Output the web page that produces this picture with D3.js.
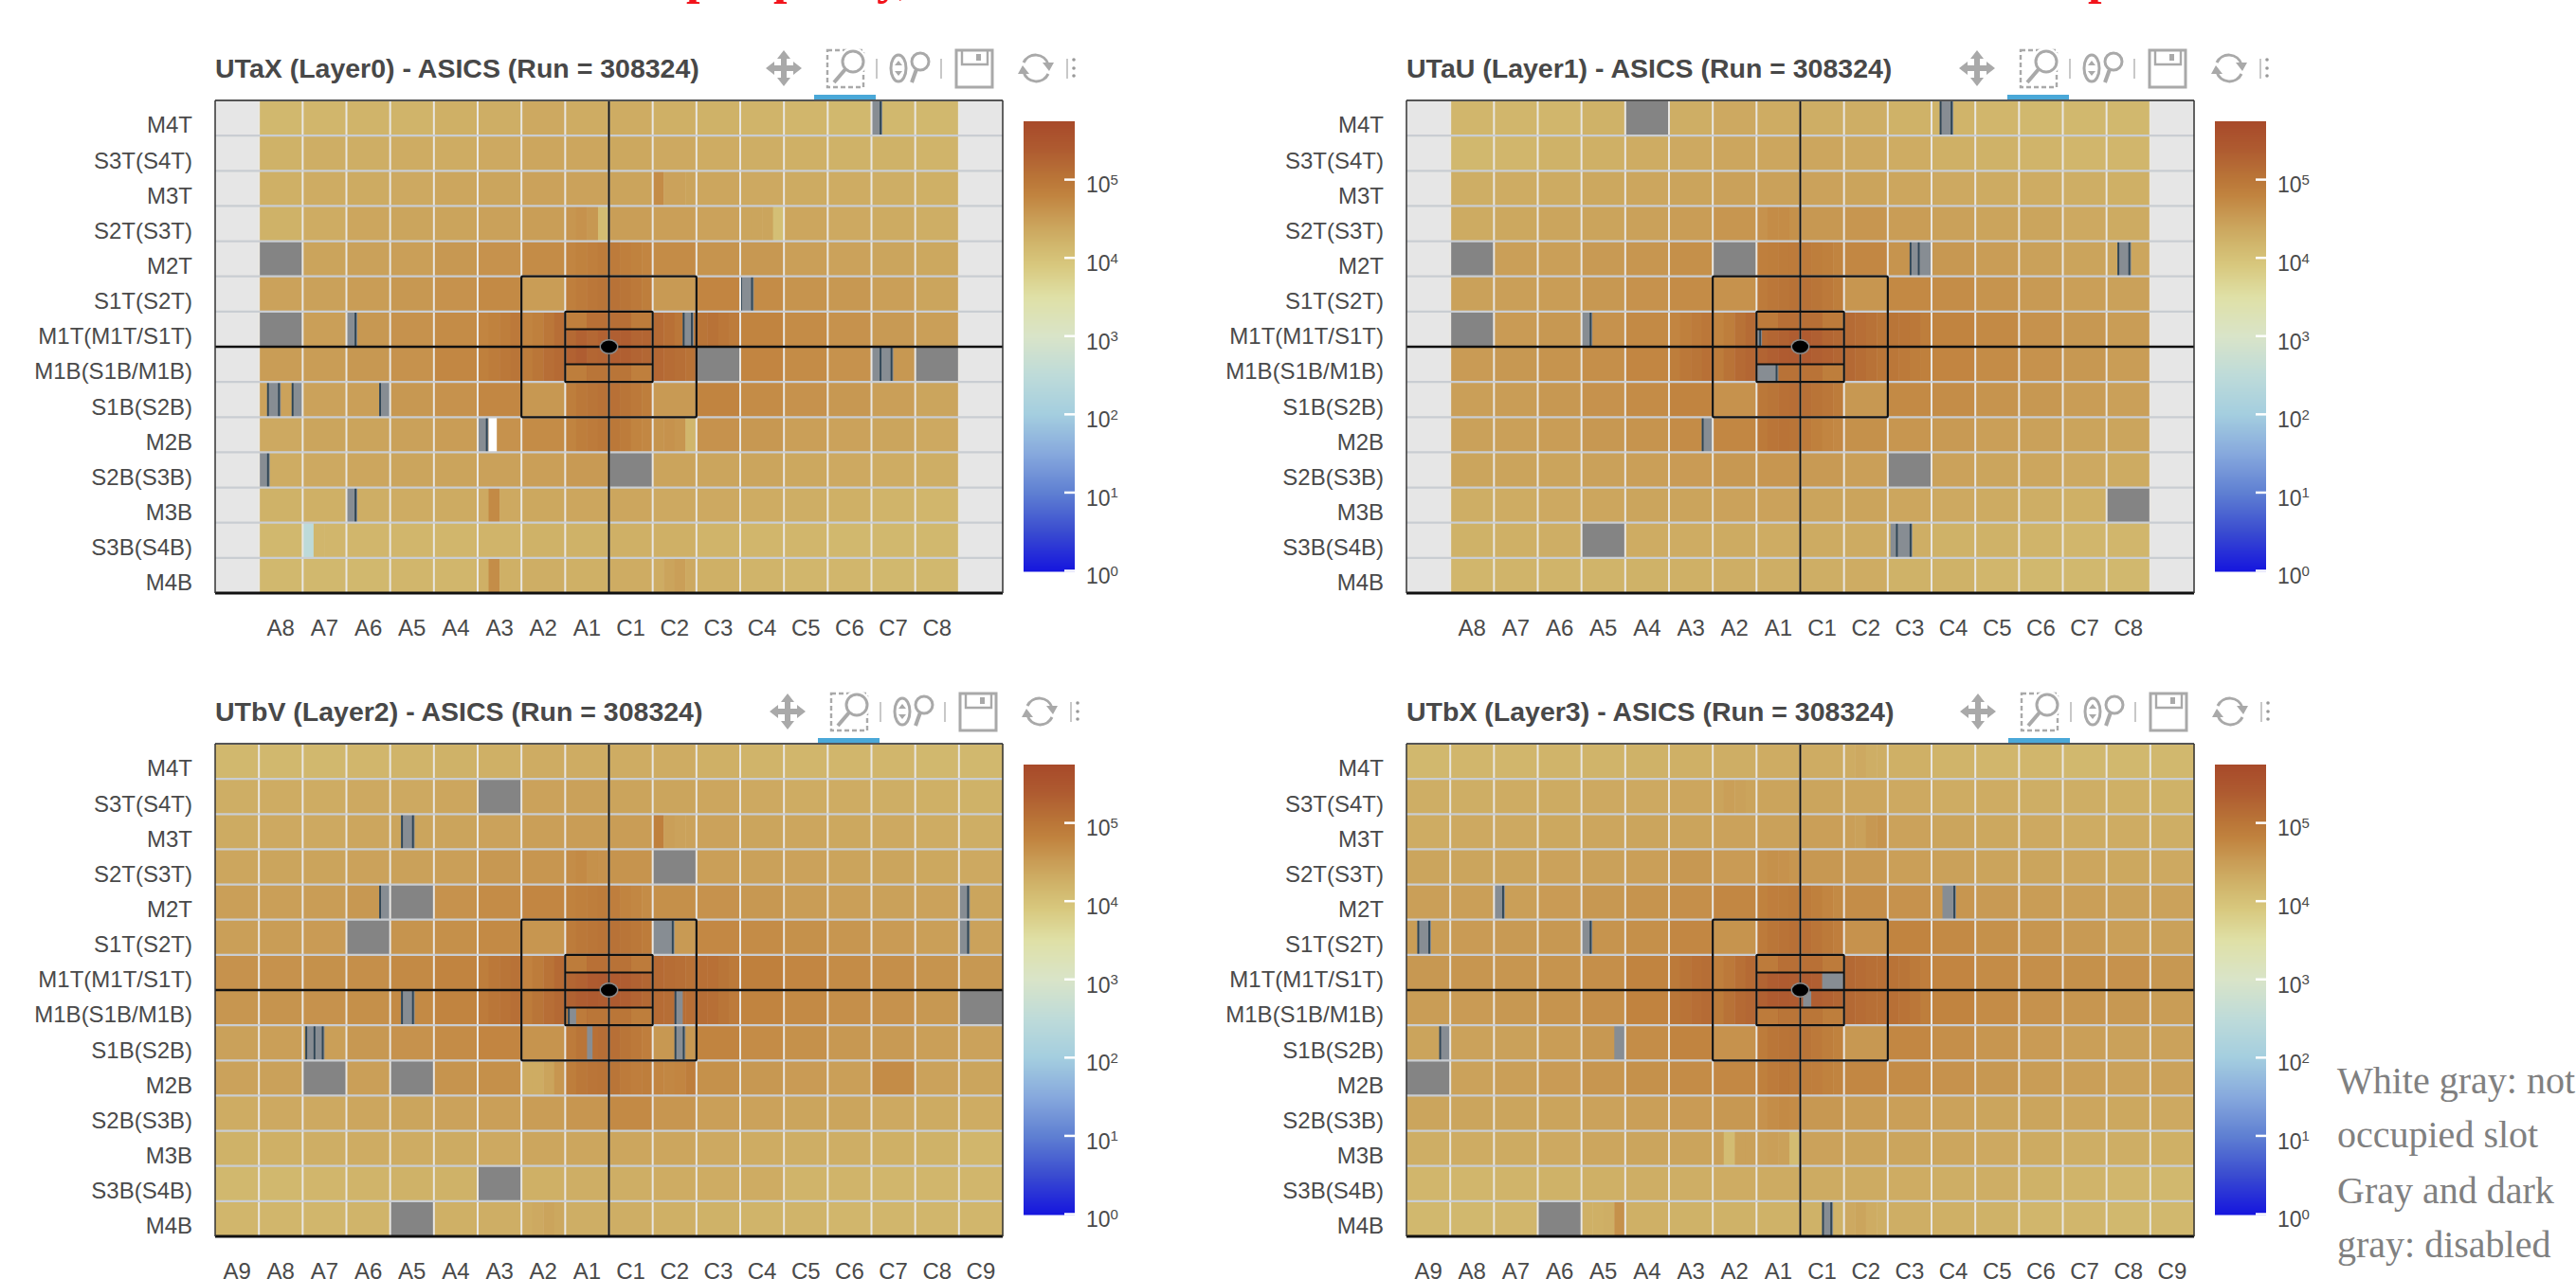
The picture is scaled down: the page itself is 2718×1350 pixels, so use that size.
<!DOCTYPE html>
<html>
<head>
<meta charset="utf-8">
<script src="https://cdn.jsdelivr.net/npm/d3@7"></script>
<style>
  html, body { margin: 0; background: #fff; }
  svg { display: block; }
  text { font-family: "Liberation Sans", Arial, sans-serif; fill: #4a4a4a; }
</style>
</head>
<body>
<div id="chart"></div>
<script>
// ---------- DATA ----------
const rowLabels = ["M4T", "S3T(S4T)", "M3T", "S2T(S3T)", "M2T", "S1T(S2T)", "M1T(M1T/S1T)",
  "M1B(S1B/M1B)", "S1B(S2B)", "M2B", "S2B(S3B)", "M3B", "S3B(S4B)", "M4B"];
const colLabels8 = ["", "A8", "A7", "A6", "A5", "A4", "A3", "A2", "A1", "C1", "C2", "C3", "C4", "C5", "C6", "C7", "C8", " "];
const colLabels9 = ["A9", "A8", "A7", "A6", "A5", "A4", "A3", "A2", "A1", "C1", "C2", "C3", "C4", "C5", "C6", "C7", "C8", "C9"];
const colourTicks = [1, 10, 100, 1000, 10000, 100000];

// hit counts in thousands per slot: number = whole cell, array = the four ASICs,
// null = not occupied, "off" = disabled
const utaxCounts = [
  [null, 14, 15, 16, 16, 18, 19, 22, 20, 20, 18, 17, 16, 15, 14, 14, 14, null],
  [null, 17, 19, 19, 20, 20, 22, 24, 24, 23, 22, 20, 19, 18, 17, 17, 16, null],
  [null, 18, 20, 21, 22, 24, 25, 27, 27, 26, [50, 27, 27, 26], 24, 22, 21, 20, 19, 18, null],
  [null, 17, 20, 24, 25, 26, 28, 31, [38, 42, 36, 12], 31, 30, 27, [25, 25, 25, 11], 24, 22, 21, 19, null],
  [null, "off", 26, 28, 30, 36, 42, 50, [60, 66, 72, 80], [84, 72, 66, 60], 50, 40, 36, 30, 27, 25, 23, null],
  [null, 27, 28, 32, 36, 42, 52, 32, [72, 84, 95, 105], [115, 105, 90, 76], 34, 60, 50, 40, 36, 30, 25, null],
  [null, "off", 30, 36, 42, 50, [60, 66, 76, 90], [62, 70, 95, 130], [150, 190, 160, 190], [210, 220, 175, 175], [145, 120, 95, 80], [105, 115, 95, 80], 62, 50, 42, 34, 30, null],
  [null, 32, 32, 36, 42, 56, [70, 80, 92, 105], [80, 100, 130, 150], [190, 230, 170, 180], [220, 215, 180, 165], [160, 140, 125, 110], "off", 60, 50, 42, 36, "off", null],
  [null, 27, 27, 30, 36, 42, 56, 36, [76, 92, 105, 115], [120, 105, 90, 76], 34, 62, 50, 42, 36, 30, 25, null],
  [null, 22, 25, 26, 28, 32, 42, 50, [62, 76, 84, 92], [92, 80, 62, 56], [40, 42, 38, 15], 42, 36, 30, 27, 25, 22, null],
  [null, 20, 22, 24, 25, 26, 28, 30, 34, "off", 26, 25, 25, 23, 22, 20, 19, null],
  [null, 17, 18, 19, 20, 21, [22, 52, 22, 22], 23, 24, 24, 22, 22, 20, 19, 18, 16, 15, null],
  [null, 14, [0.3, 15, 15, 15], 15, 15, 15, 16, 17, 17, 18, 18, 16, 15, 15, 14, 14, 14, null],
  [null, 14, 14, 14, 15, 15, [18, 48, 18, 18], 19, 18, 20, [20, 26, 30, 22], 18, 16, 15, 15, 14, 14, null]
];
const utauCounts = [
  [null, 15, 15, 15, 17, "off", 19, 22, 20, 19, 19, 17, 16, 15, 14, 14, 14, null],
  [null, 14, 15, 17, 18, 20, 22, 24, 24, 24, 22, 20, 18, 17, 16, 15, 15, null],
  [null, 19, 20, 21, 23, 24, 26, 28, 28, 27, 26, 24, 22, 21, 20, 19, 18, null],
  [null, 21, 23, 25, 26, 28, 32, 38, [42, 50, 50, 44], 36, 38, 32, 28, 26, 25, 22, 21, null],
  [null, "off", 30, 30, 34, 38, 45, "off", [72, 76, 80, 84], [84, 76, 70, 62], 56, 40, 36, 32, 28, 26, 24, null],
  [null, 28, 30, 32, 36, 42, 50, 42, [84, 95, 105, 115], [115, 105, 90, 76], 38, 54, 48, 40, 34, 30, 28, null],
  [null, "off", 33, 36, 42, 52, [60, 70, 84, 95], [62, 76, 115, 145], [150, 170, 195, 225], [240, 210, 170, 155], [145, 130, 115, 100], [105, 100, 92, 76], 62, 52, 42, 36, 32, null],
  [null, 33, 36, 40, 46, 58, [76, 92, 105, 120], [80, 110, 150, 170], [180, 210, 240, 250], [240, 210, 190, 170], [155, 135, 115, 100], [95, 88, 76, 70], 60, 50, 42, 36, 32, null],
  [null, 30, 32, 36, 42, 50, 62, 42, [92, 105, 120, 130], [122, 108, 95, 80], 36, 52, 48, 40, 36, 32, 29, null],
  [null, 28, 29, 32, 36, 40, 50, 56, [88, 102, 112, 105], [84, 70, 60, 55], 44, 38, 34, 30, 28, 26, 25, null],
  [null, 25, 26, 26, 28, 30, 33, 36, 38, 34, 30, "off", 27, 25, 24, 22, 21, null],
  [null, 19, 20, 22, 24, 25, 26, 27, 27, 26, 26, 24, 22, 21, 19, 18, "off", null],
  [null, 17, 18, 19, "off", 20, 20, 21, 20, 21, 21, 19, 17, 17, 16, 15, 15, null],
  [null, 15, 16, 16, 16, 17, 18, 19, 19, 19, 20, 17, 17, 15, 14, 14, 14, null]
];
const utbvCounts = [
  [14, 14, 14, 15, 16, 17, 18, 20, 20, 20, 20, 18, 16, 15, 15, 15, 14, 14],
  [19, 20, 20, 22, 22, 24, "off", 27, 28, 26, 25, 24, 22, 20, 20, 19, 18, 17],
  [21, 22, 22, 24, 25, 26, 27, 30, 32, 32, [70, 30, 27, 27], 27, 25, 24, 23, 22, 20, 19],
  [24, 25, 26, 27, 28, 30, 36, 38, [48, 52, 44, 42], 40, "off", 30, 28, 27, 26, 25, 23, 22],
  [30, 30, 32, 36, "off", 42, 50, 58, [66, 70, 76, 80], [74, 62, 56, 50], 45, 42, 36, 32, 30, 28, 27, 25],
  [30, 32, 33, "off", 40, 45, 52, 38, [80, 92, 100, 108], [115, 105, 92, 80], 34, 55, 50, 44, 38, 33, 30, 27],
  [42, 42, 44, 46, 52, 62, [76, 92, 105, 115], [65, 80, 110, 150], [170, 190, 240, 250], [240, 225, 195, 170], [150, 135, 125, 115], [120, 120, 105, 88], 70, 58, 50, 46, 40, 36],
  [38, 40, 42, 45, 52, 62, [84, 100, 112, 125], [80, 105, 130, 155], [195, 230, 245, 225], [245, 210, 180, 155], [140, 132, 132, 125], [132, 125, 105, 84], 62, 52, 46, 42, 36, "off"],
  [28, 30, 30, 36, 42, 50, 60, 40, [84, 105, 120, 132], [125, 105, 90, 74], 36, 62, 50, 44, 36, 34, 30, 27],
  [27, 28, "off", 30, "off", 40, 45, [20, 20, 26, 38], [76, 92, 102, 108], [105, 84, 74, 76], [60, 56, 60, 76], 44, 36, 33, 30, 50, 27, 25],
  [20, 22, 22, 24, 25, 27, 30, 32, 38, 52, 38, 30, 27, 25, 25, 22, 21, 20],
  [17, 18, 19, 20, 20, 21, 22, 24, 24, 24, 24, 22, 20, 19, 19, 18, 17, 15],
  [14, 14, 15, 16, 17, 17, "off", 18, 19, 19, 20, 20, 20, 16, 16, 15, 15, 15],
  [15, 15, 15, 16, "off", 18, 19, [20, 22, 26, 23], 19, 19, 18, 17, 16, 16, 15, 15, 15, 15]
];
const utbxCounts = [
  [14, 15, 15, 16, 16, 17, 18, 19, 20, 20, [20, 22, 19, 19], 18, 16, 15, 15, 14, 14, 14],
  [19, 19, 20, 21, 22, 22, 24, [26, 30, 28, 26], 26, 25, 24, 22, 20, 20, 19, 19, 18, 17],
  [20, 22, 22, 23, 24, 25, 26, 27, 28, 30, [30, 28, 36, 40], 27, 25, 23, 22, 20, 20, 19],
  [25, 25, 26, 27, 28, 30, 36, 33, [40, 44, 42, 38], 36, 34, 30, 28, 26, 25, 24, 23, 22],
  [30, 30, 30, 33, 36, 40, 46, 56, [66, 74, 76, 80], [80, 70, 60, 52], 48, 42, 38, 34, 32, 30, 28, 27],
  [32, 33, 34, 36, 40, 45, 56, 40, [84, 100, 112, 120], [120, 102, 88, 74], 42, 62, 52, 44, 38, 34, 30, 28],
  [36, 38, 38, 40, 46, 62, [88, 105, 120, 132], [72, 90, 120, 150], [180, 225, 240, 230], [230, 210, 180, 160], [155, 140, 125, 120], [112, 105, 88, 74], 60, 50, 46, 44, 42, 36],
  [32, 33, 36, 40, 46, 64, [100, 112, 130, 145], [85, 115, 150, 165], [200, 240, 250, 240], [240, 210, 190, 170], [155, 140, 125, 120], [120, 112, 95, 76], 62, 50, 42, 38, 36, 32],
  [26, 27, 28, 32, 36, 48, 62, 42, [80, 100, 108, 115], [105, 90, 76, 66], 36, 56, 46, 38, 33, 30, 28, 27],
  ["off", 27, 30, 33, 38, 44, 50, 55, [70, 84, 92, 88], [76, 74, 66, 62], 56, 50, 42, 36, 32, 30, 27, 27],
  [25, 25, 25, 26, 27, 30, 33, 36, [42, 48, 52, 50], 36, 32, 30, 27, 25, 25, 24, 23, 22],
  [19, 20, 21, 22, 24, 25, 26, [28, 12, 28, 28], [28, 30, 28, 12], 27, 26, 25, 24, 22, 21, 19, 19, 18],
  [15, 15, 16, 17, 18, 19, 19, 20, 21, 21, 21, 20, 19, 19, 17, 16, 15, 14],
  [14, 14, 15, "off", [18, 18, 19, 44], 18, 17, 17, 17, 17, [22, 25, 20, 19], 19, 18, 17, 15, 15, 14, 14]
];

// narrow slots: [row, column, first strip, last strip, kind, half of the row]
// strips are 1/16 of a cell. kind: "g" = disabled, "d" = dark gray disabled, "w" = white,
// a number = counts in thousands (upper/lower half of the innermost M1 slots)
const utaxStripes = [
  [6, 8, 0, 8, 72, "a"], [6, 8, 8, 16, 120, "a"], [6, 9, 0, 8, 125, "a"], [6, 9, 8, 16, 80, "a"],
  [7, 8, 0, 8, 76, "b"], [7, 8, 8, 16, 105, "b"], [7, 9, 0, 8, 105, "b"], [7, 9, 8, 16, 72, "b"],
  [0, 15, 0, 4, "g"], [0, 15, 3, 4, "d"],
  [5, 12, 0, 5, "g"], [5, 12, 0, 1, "d"], [5, 12, 4, 5, "d"],
  [6, 3, 0, 4, "g"], [6, 3, 3, 4, "d"],
  [6, 10, 11, 15, "g"], [6, 10, 11, 12, "d"], [6, 10, 14, 15, "d"],
  [7, 15, 0, 8, "g"], [7, 15, 3, 4, "d"], [7, 15, 7, 8, "d"],
  [8, 1, 3, 8, "g"], [8, 1, 3, 4, "d"], [8, 1, 7, 8, "d"], [8, 1, 12, 16, "g"], [8, 1, 12, 13, "d"],
  [8, 3, 12, 16, "g"], [8, 3, 12, 13, "d"],
  [9, 6, 0, 4, "g"], [9, 6, 3, 4, "d"], [9, 6, 4, 7, "w"],
  [10, 1, 0, 4, "g"], [10, 1, 3, 4, "d"],
  [11, 3, 0, 4, "g"], [11, 3, 3, 4, "d"]
];
const utauStripes = [
  [6, 8, 0, 8, 84, "a"], [6, 8, 8, 16, 125, "a"], [6, 9, 0, 8, 125, "a"], [6, 9, 8, 16, 84, "a"],
  [7, 8, 0, 8, 84, "b"], [7, 8, 8, 16, 115, "b"], [7, 9, 0, 8, 110, "b"], [7, 9, 8, 16, 76, "b"],
  [0, 12, 3, 8, "g"], [0, 12, 3, 4, "d"], [0, 12, 7, 8, "d"],
  [4, 11, 8, 16, "g"], [4, 11, 8, 9, "d"], [4, 11, 11, 12, "d"],
  [4, 16, 4, 9, "g"], [4, 16, 4, 5, "d"], [4, 16, 8, 9, "d"],
  [6, 4, 0, 4, "g"], [6, 4, 3, 4, "d"],
  [6, 8, 0, 2, "g", "b"], [6, 8, 1, 2, "d", "b"],
  [7, 8, 0, 8, "g", "b"], [7, 8, 7, 8, "d", "b"],
  [9, 6, 12, 16, "g"], [9, 6, 12, 13, "d"],
  [12, 11, 1, 9, "g"], [12, 11, 3, 4, "d"], [12, 11, 8, 9, "d"]
];
const utbvStripes = [
  [6, 8, 0, 8, 80, "a"], [6, 8, 8, 16, 120, "a"], [6, 9, 0, 8, 115, "a"], [6, 9, 8, 16, 84, "a"],
  [7, 8, 0, 8, 84, "b"], [7, 8, 8, 16, 100, "b"], [7, 9, 0, 8, 100, "b"], [7, 9, 8, 16, 76, "b"],
  [2, 4, 4, 9, "g"], [2, 4, 4, 5, "d"], [2, 4, 8, 9, "d"],
  [4, 3, 12, 16, "g"], [4, 3, 12, 13, "d"],
  [4, 17, 0, 4, "g"], [4, 17, 3, 4, "d"],
  [5, 10, 0, 8, "g"], [5, 10, 7, 8, "d"],
  [5, 17, 0, 4, "g"], [5, 17, 3, 4, "d"],
  [7, 4, 4, 9, "g"], [7, 4, 4, 5, "d"], [7, 4, 8, 9, "d"],
  [7, 8, 1, 4, "g", "b"], [7, 8, 1, 2, "d", "b"],
  [7, 10, 8, 11, "g"], [7, 10, 8, 9, "d"],
  [8, 2, 1, 8, "g"], [8, 2, 1, 2, "d"], [8, 2, 4, 5, "d"], [8, 2, 7, 8, "d"],
  [8, 8, 8, 10, "g"], [8, 10, 8, 12, "g"], [8, 10, 8, 9, "d"], [8, 10, 11, 12, "d"]
];
const utbxStripes = [
  [6, 8, 0, 8, 84, "a"], [6, 8, 8, 16, 125, "a"], [6, 9, 0, 8, 120, "a"], [6, 9, 8, 16, 84, "a"],
  [7, 8, 0, 8, 84, "b"], [7, 8, 8, 16, 105, "b"], [7, 9, 0, 8, 100, "b"], [7, 9, 8, 16, 76, "b"],
  [4, 2, 0, 4, "g"], [4, 2, 3, 4, "d"],
  [4, 12, 4, 9, "g"], [4, 12, 8, 9, "d"],
  [5, 0, 4, 9, "g"], [5, 0, 4, 5, "d"], [5, 0, 8, 9, "d"],
  [5, 4, 0, 4, "g"], [5, 4, 3, 4, "d"],
  [6, 9, 8, 16, "g", "b"],
  [7, 9, 1, 4, "g", "a"],
  [8, 0, 12, 16, "g"], [8, 0, 12, 13, "d"],
  [8, 4, 12, 16, "g"],
  [13, 9, 8, 12, "g"], [13, 9, 8, 9, "d"], [13, 9, 11, 12, "d"]
];

const layerNames = ["UTaX (Layer0)", "UTaU (Layer1)", "UTbV (Layer2)", "UTbX (Layer3)"];
const runNumber = 308324;
const noteLines = ["White gray: not", "occupied slot", "Gray and dark", "gray: disabled"];
// slide heading above the screenshots, only the tails of it are left in the picture
const cutLetters = ["p", "p", "y,", "p"];

// ---------- LAYOUT ----------
const width = 2718, height = 1350;
const plotW = 831, plotH = 520;
const panels = [
  { name: layerNames[0], counts: utaxCounts, stripes: utaxStripes, cols: colLabels8, x: 227, y: 106, toolDx: 0 },
  { name: layerNames[1], counts: utauCounts, stripes: utauStripes, cols: colLabels8, x: 1484, y: 106, toolDx: 2 },
  { name: layerNames[2], counts: utbvCounts, stripes: utbvStripes, cols: colLabels9, x: 227, y: 785, toolDx: 4 },
  { name: layerNames[3], counts: utbxCounts, stripes: utbxStripes, cols: colLabels9, x: 1484, y: 785, toolDx: 3 }
];

const colourStops = [0, 0.5, 1, 1.5, 2, 2.5, 3, 3.5, 3.9, 4.2, 4.5, 4.8, 5, 5.4, 5.74];
const colourRange = ["#1616de", "#3a4cd0", "#5f80d2", "#87a9dd", "#a4cedf", "#bedbd9", "#d9e4c8", "#dfe0a6",
  "#d8c87e", "#d0b46a", "#c99d56", "#c1833f", "#ba7638", "#ae5a30", "#a84a2a"];
const logColour = d3.scaleLinear().domain(colourStops).range(colourRange).interpolate(d3.interpolateRgb);
const colour = v => logColour(Math.log10(v));
const kindColour = { g: "#878d93", d: "#2f4555", w: "#ffffff" };

const svg = d3.select("#chart").append("svg").attr("width", width).attr("height", height);

// ---------- RED HEADING REMAINS ----------
svg.selectAll(".cut").data(cutLetters).enter().append("text")
  .attr("class", "cut")
  .attr("x", (d, i) => [724, 816, 925, 2203][i])
  .attr("y", -7.5)
  .style("font-family", '"Liberation Serif", serif')
  .style("font-size", "52px")
  .style("font-weight", "bold")
  .style("fill", "#f2141c")
  .text(d => d);

// ---------- PANEL ----------
function drawPanel(p) {
  const g = svg.append("g").attr("transform", `translate(${p.x},${p.y})`);

  const x = d3.scaleBand().domain(d3.range(18)).range([0, plotW]);
  const y = d3.scaleBand().domain(d3.range(14)).range([0, plotH]);
  const strip = d3.scaleLinear().domain([0, 16]).range([0, x.bandwidth()]);

  // flatten cells to one rect per ASIC
  const rects = [];
  p.counts.forEach((row, r) => row.forEach((cell, c) => {
    const vals = Array.isArray(cell) ? cell : [cell];
    vals.forEach((v, i) => rects.push({ r, c, i, n: vals.length, v }));
  }));

  g.selectAll(".cell").data(rects).enter().append("rect")
    .attr("class", "cell")
    .attr("x", d => x(d.c) + strip(16 * d.i / d.n))
    .attr("y", d => y(d.r))
    .attr("width", d => strip(16 / d.n) + 0.5)
    .attr("height", y.bandwidth() + 0.5)
    .attr("fill", d => d.v === null ? "#e6e6e6" : d.v === "off" ? "#848484" : colour(d.v * 1000));

  g.selectAll(".stripe").data(p.stripes).enter().append("rect")
    .attr("class", "stripe")
    .attr("x", d => x(d[1]) + strip(d[2]))
    .attr("y", d => y(d[0]) + (d[5] === "b" ? y.bandwidth() / 2 : 0))
    .attr("width", d => strip(d[3] - d[2]) * (d[4] === "d" ? 0.65 : 1))
    .attr("height", d => d[5] ? y.bandwidth() / 2 : y.bandwidth())
    .attr("fill", d => typeof d[4] === "number" ? colour(d[4] * 1000) : kindColour[d[4]]);

  // grid
  g.selectAll(".gridV").data(d3.range(1, 18)).enter().append("line")
    .attr("x1", d => x(d)).attr("x2", d => x(d))
    .attr("y1", 0).attr("y2", plotH)
    .attr("stroke", "#e9e7e3").attr("stroke-width", 2);
  g.selectAll(".gridH").data(d3.range(1, 14)).enter().append("line")
    .attr("x1", 0).attr("x2", plotW)
    .attr("y1", d => y(d)).attr("y2", d => y(d))
    .attr("stroke", "#c9cdd2").attr("stroke-width", 2.2);

  // centre boxes and cross
  const black = "#101010";
  const box = (c0, c1, r0, r1) => g.append("rect")
    .attr("x", x(c0)).attr("y", y(r0))
    .attr("width", x(c1) - x(c0)).attr("height", y(r1) - y(r0))
    .attr("rx", 1.5).attr("fill", "none").attr("stroke", black).attr("stroke-width", 2.2);
  box(7, 11, 5, 9);
  box(8, 10, 6, 8);
  [6.5, 7.5].forEach(r => g.append("line")
    .attr("x1", x(8)).attr("x2", x(10))
    .attr("y1", y(6) + (r - 6) * y.bandwidth()).attr("y2", y(6) + (r - 6) * y.bandwidth())
    .attr("stroke", black).attr("stroke-width", 2));
  g.append("line").attr("x1", x(9)).attr("x2", x(9)).attr("y1", 0).attr("y2", plotH)
    .attr("stroke", black).attr("stroke-width", 2);
  g.append("line").attr("x1", 0).attr("x2", plotW).attr("y1", y(7)).attr("y2", y(7))
    .attr("stroke", black).attr("stroke-width", 2.4);
  g.append("ellipse").attr("cx", x(9)).attr("cy", y(7)).attr("rx", 10).attr("ry", 8).attr("fill", "#8a8a8a");
  g.append("ellipse").attr("cx", x(9)).attr("cy", y(7)).attr("rx", 8.5).attr("ry", 6.5).attr("fill", "#000");

  // frame
  g.append("line").attr("x1", 0).attr("x2", plotW).attr("y1", 0).attr("y2", 0).attr("stroke", "#555").attr("stroke-width", 2);
  g.append("line").attr("x1", 0).attr("x2", plotW).attr("y1", plotH).attr("y2", plotH).attr("stroke", "#111").attr("stroke-width", 3);
  g.append("line").attr("x1", 0).attr("x2", 0).attr("y1", 0).attr("y2", plotH).attr("stroke", "#333").attr("stroke-width", 1.5);
  g.append("line").attr("x1", plotW).attr("x2", plotW).attr("y1", 0).attr("y2", plotH).attr("stroke", "#333").attr("stroke-width", 1.5);

  // axes
  const xAxis = d3.axisBottom(d3.scaleBand().domain(p.cols).range([0, plotW])).tickSize(0).tickPadding(28);
  const yAxis = d3.axisLeft(d3.scaleBand().domain(rowLabels).range([0, plotH])).tickSize(0).tickPadding(24);
  const gx = g.append("g").attr("transform", `translate(0,${plotH})`).call(xAxis);
  const gy = g.append("g").call(yAxis);
  gx.select(".domain").remove();
  gy.select(".domain").remove();
  gx.selectAll("text").style("font-size", "24px");
  gy.selectAll("text").style("font-size", "24px").attr("dy", "0.66em");

  // title
  g.append("text").attr("x", 0).attr("y", -24)
    .style("font-size", "28.5px").style("font-weight", "bold").style("fill", "#484848")
    .text(`${p.name} - ASICS (Run = ${runNumber})`);

  drawColourBar(g);
  drawToolbar(g.append("g").attr("transform", `translate(${p.toolDx},0)`));
}

// ---------- COLOUR BAR ----------
function drawColourBar(g) {
  const barH = 475, barW = 54;
  const bar = g.append("g").attr("transform", `translate(${plotW + 22},22)`);
  const scale = d3.scaleLog().domain([1, Math.pow(10, 5.74)]).range([barH - 1, 0]);

  bar.selectAll(".px").data(d3.range(0, barH)).enter().append("rect")
    .attr("y", d => d)
    .attr("width", barW).attr("height", 1.5)
    .attr("fill", d => colour(scale.invert(Math.min(d, barH - 1))));

  const axis = d3.axisRight(scale).tickValues(colourTicks).tickSize(0).tickPadding(12).tickFormat(() => "");
  const ga = bar.append("g").attr("transform", `translate(${barW},0)`).call(axis);
  ga.select(".domain").remove();
  ga.selectAll(".tick line").attr("x1", -11).attr("x2", 0).attr("stroke", "#fff").attr("stroke-width", 2.5);
  const labels = ga.selectAll(".tick text").attr("dy", "0.6em").style("font-size", "23px");
  labels.append("tspan").text("10");
  labels.append("tspan").attr("dy", "-0.55em").style("font-size", "15px").text(d => Math.round(Math.log10(d)));
}

// ---------- BOKEH STYLE TOOLBAR ----------
function drawToolbar(t) {
  const col = "#a9a9a9";
  const line = sel => sel.attr("fill", "none").attr("stroke", col).attr("stroke-width", 3);

  // pan
  t.append("path").attr("fill", col)
    .attr("d", "M600,-53l7,9h-4v7h7v-4l9,7l-9,7v-4h-7v7h4l-7,9l-7,-9h4v-7h-7v4l-9,-7l9,-7v4h7v-7h-4z");
  // box zoom
  line(t.append("rect")).attr("x", 646).attr("y", -53).attr("width", 38).attr("height", 39).attr("stroke-dasharray", "5 3").attr("stroke-width", 2.4);
  line(t.append("circle")).attr("cx", 673).attr("cy", -41).attr("r", 11).attr("stroke", "#fff").attr("stroke-width", 8);
  line(t.append("circle")).attr("cx", 673).attr("cy", -41).attr("r", 11);
  line(t.append("path")).attr("d", "M665,-33L653,-19").attr("stroke-width", 4);
  // wheel zoom
  line(t.append("ellipse")).attr("cx", 721).attr("cy", -34).attr("rx", 8).attr("ry", 14);
  t.append("path").attr("fill", col).attr("d", "M721,-42l4,5h-8zM721,-26l4,-5h-8z");
  line(t.append("circle")).attr("cx", 744).attr("cy", -41).attr("r", 9);
  line(t.append("path")).attr("d", "M740,-33L735,-19").attr("stroke-width", 4);
  // save
  line(t.append("rect")).attr("x", 782).attr("y", -53).attr("width", 38).attr("height", 39);
  line(t.append("path")).attr("d", "M788,-53V-38H815V-53").attr("stroke-width", 2.4);
  t.append("rect").attr("x", 803).attr("y", -49).attr("width", 5).attr("height", 7).attr("fill", col);
  // reset
  line(t.append("path")).attr("d", "M853,-40A14,14 0 0 1 879,-38");
  line(t.append("path")).attr("d", "M879,-28A14,14 0 0 1 853,-30");
  t.append("path").attr("fill", col).attr("d", "M873,-40l12,0l-5,9zM859,-28l-12,0l5,-9z");
  // separators and menu dots
  [698, 766, 899].forEach(s => t.append("line")
    .attr("x1", s).attr("x2", s).attr("y1", -44).attr("y2", -23)
    .attr("stroke", "#c8c8c8").attr("stroke-width", 2));
  [-43, -34, -26].forEach(d => t.append("circle").attr("cx", 906).attr("cy", d).attr("r", 1.8).attr("fill", "#999"));
  // active tool marker
  t.append("rect").attr("x", 632).attr("y", -6).attr("width", 65).attr("height", 5).attr("fill", "#4aa8d8");
}

panels.forEach(drawPanel);

// ---------- NOTE ----------
svg.selectAll(".note").data(noteLines).enter().append("text")
  .attr("class", "note")
  .attr("x", 2466)
  .attr("y", (d, i) => [1154, 1211, 1270, 1327][i])
  .style("font-family", '"Liberation Serif", serif')
  .style("font-size", "40px")
  .style("fill", "#808080")
  .text(d => d);
</script>
</body>
</html>
